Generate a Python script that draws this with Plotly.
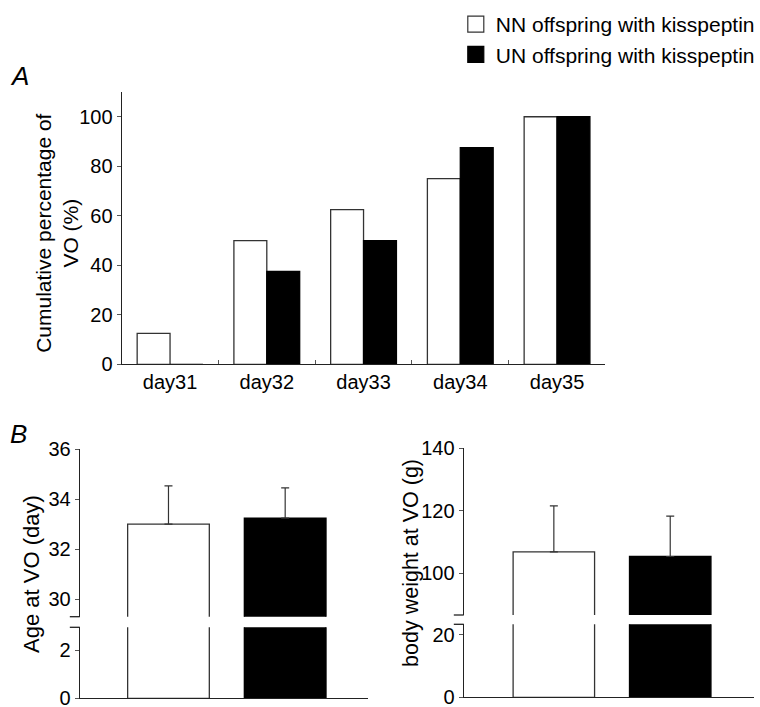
import plotly.graph_objects as go

# ---------------- data ----------------
days = ["day31", "day32", "day33", "day34", "day35"]
nn_cum = [12.5, 50, 62.5, 75, 100]
un_cum = [0, 37.5, 50, 87.5, 100]

groups = ["NN offspring with kisspeptin", "UN offspring with kisspeptin"]
age_mean = [33.0, 33.24]
age_err = [1.53, 1.21]
weight_mean = [106.9, 105.4]
weight_err = [14.7, 12.9]

yA_ticks = [0, 20, 40, 60, 80, 100]
age_ticks_hi = [30, 32, 34, 36]
age_ticks_lo = [0, 2]
wt_ticks_hi = [100, 120, 140]
wt_ticks_lo = [0, 20]

W, H = 760, 707
FONT = "Liberation Sans, Arial, sans-serif"
AX = "#222222"
TK = "#555555"
EDGE = "#333333"
fills = ["white", "black"]
edges = [EDGE, "black"]

def px_x(p):
    return p / W

def px_y(p):
    return 1 - p / H

fig = go.Figure()

# Panel A
for i, (vals, name) in enumerate([(nn_cum, groups[0]), (un_cum, groups[1])]):
    fig.add_trace(go.Bar(x=days, y=vals, name=name, legendgroup=name,
                         marker=dict(color=fills[i], line=dict(color=edges[i], width=1.3)),
                         xaxis="x", yaxis="y", showlegend=False))
    # legend entry (square key)
    fig.add_trace(go.Scatter(x=[None], y=[None], mode="markers", name=name, legendgroup=name,
                             marker=dict(symbol="square", size=16, color=fills[i],
                                         line=dict(color=edges[i], width=1.2)),
                             xaxis="x", yaxis="y", showlegend=True))

# Panel B left (age) upper & lower
for i in range(2):
    for ax, errs in (("2", True), ("3", False)):
        fig.add_trace(go.Bar(x=[i], y=[age_mean[i]], width=0.7, name=groups[i],
                             marker=dict(color=fills[i], line=dict(color=edges[i], width=1.3)),
                             error_y=dict(type="data", array=[age_err[i]], arrayminus=[0], symmetric=False,
                                          color=EDGE, thickness=1.2, width=4, visible=errs),
                             xaxis="x" + ax, yaxis="y" + ax, showlegend=False))
# Panel B right (weight)
for i in range(2):
    for ax, errs in (("4", True), ("5", False)):
        fig.add_trace(go.Bar(x=[i], y=[weight_mean[i]], width=0.7, name=groups[i],
                             marker=dict(color=fills[i], line=dict(color=edges[i], width=1.3)),
                             error_y=dict(type="data", array=[weight_err[i]], arrayminus=[0], symmetric=False,
                                          color=EDGE, thickness=1.2, width=4, visible=errs),
                             xaxis="x" + ax, yaxis="y" + ax, showlegend=False))

yax_common = dict(showline=True, linecolor=AX, linewidth=1.3, ticks="outside", ticklen=4, tickcolor=TK,
                  showgrid=False, zeroline=False, automargin=False, ticklabeloverflow="allow",
                  tickfont=dict(size=20, family=FONT, color="black"))
xb_common = dict(showline=True, linecolor=AX, linewidth=1.3, showticklabels=False, ticks="", showgrid=False,
                 zeroline=False, automargin=False)

fig.update_layout(
    template="none",
    width=W, height=H, margin=dict(l=0, r=0, t=0, b=0, pad=0), autosize=False,
    paper_bgcolor="white", plot_bgcolor="white",
    font=dict(family=FONT, color="black"),
    barmode="group", bargap=0.32, bargroupgap=0,
    showlegend=True,
    legend=dict(x=px_x(457), y=px_y(4), xanchor="left", yanchor="top", font=dict(size=21, family=FONT),
                bgcolor="rgba(0,0,0,0)", borderwidth=0, tracegroupgap=3, itemsizing="trace",
                traceorder="normal"),
    # Panel A
    xaxis=dict(domain=[px_x(122), px_x(607)], anchor="y", range=[-0.5, 4.5], showline=True, linecolor=AX,
               linewidth=1.3, ticks="inside", tickson="boundaries", ticklen=4, tickcolor=TK, showgrid=False,
               zeroline=False, automargin=False, tickfont=dict(size=20, family=FONT, color="black")),
    yaxis=dict(domain=[px_y(364.3), px_y(92)], anchor="x", range=[0, 110], tickvals=yA_ticks, **yax_common),
    # Panel B left
    xaxis2=dict(domain=[px_x(80), px_x(369)], anchor="y2", range=[-0.76, 1.71], visible=False, automargin=False),
    yaxis2=dict(domain=[px_y(616.7), px_y(449)], anchor="x2", range=[29.3, 36], tickvals=age_ticks_hi, **yax_common),
    xaxis3=dict(domain=[px_x(80), px_x(369)], anchor="y3", range=[-0.76, 1.71], **xb_common),
    yaxis3=dict(domain=[px_y(698.3), px_y(627.3)], anchor="x3", range=[0, 2.94], tickvals=age_ticks_lo, **yax_common),
    # Panel B right
    xaxis4=dict(domain=[px_x(465), px_x(756)], anchor="y4", range=[-0.774, 1.72], visible=False, automargin=False),
    yaxis4=dict(domain=[px_y(615), px_y(448.3)], anchor="x4", range=[86.7, 140], tickvals=wt_ticks_hi, **yax_common),
    xaxis5=dict(domain=[px_x(465), px_x(756)], anchor="y5", range=[-0.774, 1.72], **xb_common),
    yaxis5=dict(domain=[px_y(697.3), px_y(624.3)], anchor="x5", range=[0, 23.4], tickvals=wt_ticks_lo, **yax_common),
)

# axis-break markers
for xr, yr_hi, yr_lo, dx in (("x2", "y2", "y3", 10 / 289), ("x4", "y4", "y5", 10 / 291)):
    fig.add_shape(type="line", xref=xr + " domain", yref=yr_hi + " domain", x0=-dx, x1=0, y0=0, y1=0,
                  line=dict(color=AX, width=1.3))
    fig.add_shape(type="line", xref=xr + " domain", yref=yr_lo + " domain", x0=-dx, x1=0, y0=1, y1=1,
                  line=dict(color=AX, width=1.3))

# titles and panel letters
ann = [
    dict(text="Cumulative percentage of<br>VO (%)", x=px_x(57), y=px_y(233), textangle=-90, font=dict(size=21)),
    dict(text="Age at VO (day)", x=px_x(31), y=px_y(574), textangle=-90, font=dict(size=22)),
    dict(text="body weight at VO (g)", x=px_x(412), y=px_y(563), textangle=-90, font=dict(size=21.5)),
    dict(text="<i>A</i>", x=px_x(20), y=px_y(76), font=dict(size=26)),
    dict(text="<i>B</i>", x=px_x(19), y=px_y(434), font=dict(size=26)),
]
for a in ann:
    fig.add_annotation(xref="paper", yref="paper", showarrow=False, xanchor="center", yanchor="middle",
                       font=dict(family=FONT, color="black", size=a["font"]["size"]),
                       **{k: v for k, v in a.items() if k != "font"})

fig.write_html("out.html", config={"displayModeBar": False},
               post_script="document.body.style.margin='0px';document.body.style.overflow='hidden';")
